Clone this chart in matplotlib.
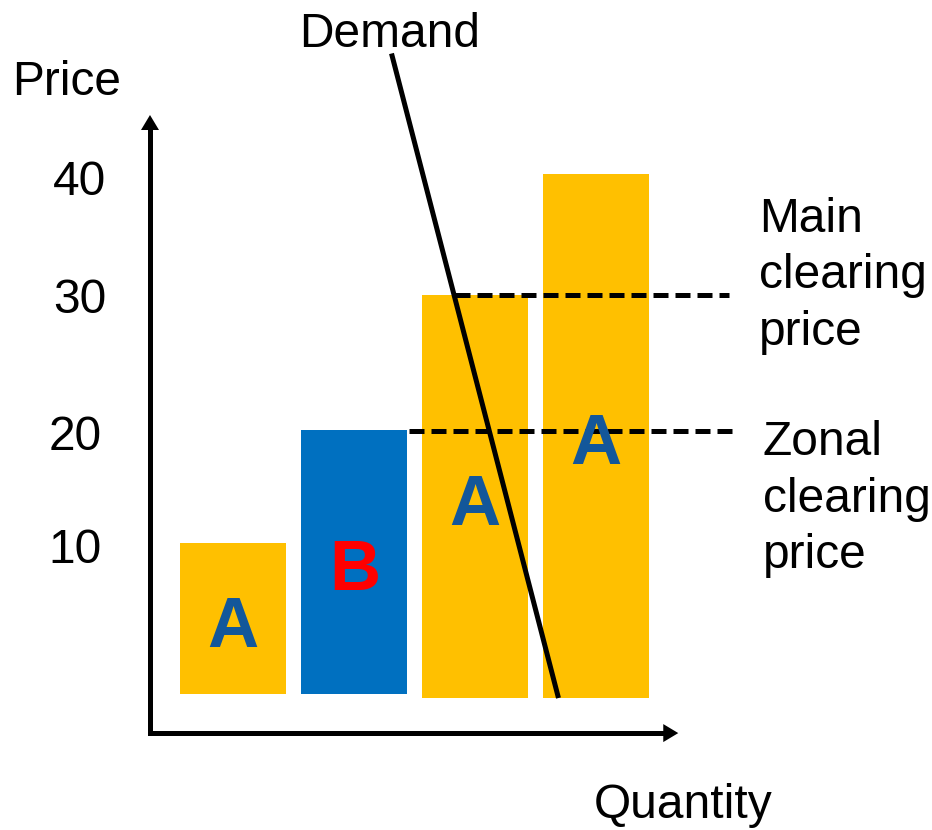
import matplotlib
matplotlib.use("Agg")
import matplotlib.pyplot as plt

# ==========================================================
# DATA
# ==========================================================

bar_pos = [1, 2, 3, 4]                 # quantity blocks
bar_top = [10.0, 19.2, 30.2, 40.0]     # offer price of each block
bar_bottom = [-2.3, -2.3, -2.6, -2.6]
bar_zone = ["A", "B", "A", "A"]

price_ticks = ["40", "30", "20", "10"]

demand_q = [2.31, 3.69]
demand_p = [49.8, -2.6]

main_price = 30.2
zonal_price = 19.1

# ==========================================================
# STYLE
# ==========================================================

plt.rcParams["font.family"] = ["Liberation Sans", "DejaVu Sans"]

ORANGE = "#FFC000"
BLUE = "#0070C0"
LETTER_BLUE = "#13579A"
RED = "#FF0000"

zone_color = {"A": ORANGE, "B": BLUE}
letter_color = {"A": LETTER_BLUE, "B": RED}

LW = 3.6

W, H = 932, 830
fig = plt.figure(figsize=(W / 100, H / 100), dpi=100)
ax = fig.add_axes([0, 0, 1, 1])
ax.set_xlim(-0.9256, 6.777)
ax.set_ylim(-13.33, 54.15)
ax.axis("off")


def px(x, y):
    # figure fraction from pixel coords measured from top-left
    return x / W, 1 - y / H


# bars
heights = [t - b for t, b in zip(bar_top, bar_bottom)]
ax.bar(bar_pos, heights, bottom=bar_bottom, width=0.876,
       color=[zone_color[z] for z in bar_zone], linewidth=0, zorder=1)

# axes (L shape + arrow heads)
x0, y0 = 0.314, -5.45
y_top, x_end = 44.8, 4.68
ax.plot([x0, x0, x_end - 0.08], [y_top - 1.0, y0, y0], color="black",
        lw=LW, solid_joinstyle="miter", solid_capstyle="butt", zorder=2)
head = dict(arrowstyle="-|>,head_length=0.4,head_width=0.24", lw=0,
            color="black", mutation_scale=27, shrinkA=0, shrinkB=0)
ax.annotate("", xy=(x0, y_top), xytext=(x0, y_top - 2), arrowprops=head)
ax.annotate("", xy=(x_end, y0), xytext=(x_end - 0.2, y0), arrowprops=head)

# clearing price lines
ax.plot([2.835, 5.10], [main_price, main_price], color="black", lw=LW,
        dashes=(3.0, 1.4), dash_capstyle="butt", zorder=3)
ax.plot([2.455, 5.13], [zonal_price, zonal_price], color="black", lw=LW,
        dashes=(3.0, 1.4), dash_capstyle="butt", zorder=3)

# demand curve
ax.plot(demand_q, demand_p, color="black", lw=LW, solid_capstyle="butt",
        zorder=4)

# zone letters inside bars
letter_xy = [(233, 647), (355, 590), (475, 525), (596, 464)]
for z, (lx, ly) in zip(bar_zone, letter_xy):
    fig.text(*px(lx, ly), z, ha="center", va="baseline", fontsize=51,
             fontweight="bold", color=letter_color[z], zorder=5)

fs = 34.5

# tick labels
tick_xy = [(80, 195), (80, 313), (75, 450), (75, 563)]
for t, (tx, ty) in zip(price_ticks, tick_xy):
    fig.text(*px(tx, ty), t, ha="center", va="baseline", fontsize=fs)

fig.text(*px(12, 95), "Price", ha="left", va="baseline", fontsize=fs)
fig.text(*px(299, 47), "Demand", ha="left", va="baseline", fontsize=fs)
fig.text(*px(594, 818), "Quantity", ha="left", va="baseline", fontsize=fs)

for i, line in enumerate(["Main", "clearing", "price"]):
    fig.text(*px(759, 232 + 56.5 * i), line, ha="left", va="baseline",
             fontsize=fs)
for i, line in enumerate(["Zonal", "clearing", "price"]):
    fig.text(*px(763, 455 + 56.5 * i), line, ha="left", va="baseline",
             fontsize=fs)

fig.savefig("out.png", dpi=100)
